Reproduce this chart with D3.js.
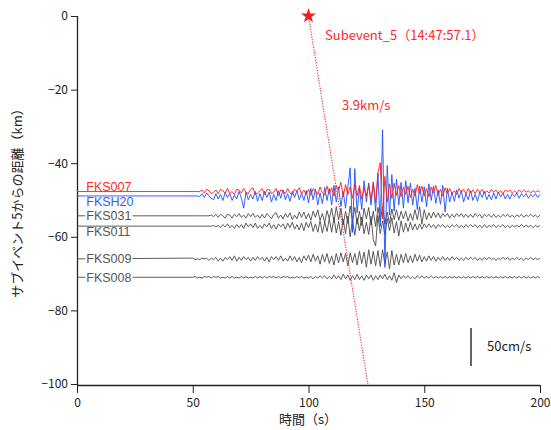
<!DOCTYPE html>
<html>
<head>
<meta charset="utf-8">
<script src="https://cdn.jsdelivr.net/npm/d3@7"></script>
<style>
  body { margin: 0; background: #fff; }
  svg text { font-family: "Noto Sans CJK JP", "Noto Sans", sans-serif; }
  svg text.stn { font-family: "Liberation Sans", Arial, sans-serif; }
</style>
</head>
<body>
<div id="chart"></div>
<script>
// waveform samples (cm/s), one per second starting at t0
var t0 = 50;
var dt = 1;

var stations = ["FKS008", "FKS009", "FKS011", "FKS031", "FKSH20", "FKS007"];
// distance from subevent 5 (km), trace baselines
var distances = [-71.0, -66.0, -57.1, -54.3, -48.9, -47.7];

var fks007 = [0,0,0,0, 2,-2,3,1,-3,-1,2,
  -3,3,1,-2,4,-3,0,-4,3,2,
  -2,4,-1,-3,3,5,-4,-2,1,4,
  -4,2,3,-3,-1,4,-5,2,1,-3,
  4,-2,-4,3,0,5,-3,2,-4,3,
  -5,4,1,-4,6,-2,-5,7,-3,5,
  -6,8,2,12,-7,9,-4,6,-9,10,
  -6,8,-10,5,-6,9,-11,12,-15,25,
  38,-36,20,-14,10,-9,11,-5,8,-7,
  6,-4,7,-8,3,-6,9,-3,7,-6,
  4,-7,6,-2,8,-5,3,-6,5,-3,
  4,-3,1,-4,4,-1,3,-3,4,-2,
  2,-3,3,-1,3,-3,1,-2,3,-1,
  2,-2,1,-3,2,0,2,-2,1,-2,
  2,-1,2,-1,1,-2,1,-1,1,-1];

var fksh20 = [0,0,0,-1, 3,-2,4,0,-3,-5,3,
  -4,2,-6,4,-2,3,-6,1,-4,6,
  -3,-16,5,-5,2,-4,6,-7,3,-6,
  6,-2,5,-8,2,-6,7,-3,8,-5,
  3,-7,6,-2,7,-5,4,-6,7,-9,
  10,-5,9,-12,4,-10,11,-6,10,-12,
  14,-8,12,-14,6,-16,12,37,-48,36,
  -22,10,-18,20,-8,17,-12,18,-20,30,
  -40,87,-94,40,-25,28,-20,22,-12,18,
  -16,20,-9,17,-12,10,-18,13,-8,12,
  -14,16,-6,13,-10,8,-11,14,-21,10,
  -8,5,-7,8,-3,7,-8,3,-5,7,
  -6,2,-7,5,-2,6,-5,2,-5,4,
  -4,5,-1,4,-4,2,-4,3,-1,4,
  -3,3,-1,3,-3,2,-1,3,-2,2];

var fks031 = [0,0,0,0, 0,0,0,0,1,-1,2,
  -2,2,0,-3,2,1,-3,2,-1,3,
  -2,1,-3,3,-1,3,-2,1,-3,2,
  -3,3,0,-4,2,4,-3,1,-4,3,
  -2,4,-5,1,-4,5,-2,5,-4,3,
  -6,6,-2,8,-6,3,-9,7,-4,10,
  -8,12,-5,10,-12,6,-10,13,-7,11,
  -11,6,-13,10,-4,11,-12,6,-14,11,
  -7,12,-11,5,-10,9,-5,8,-6,6,
  -4,6,-7,3,-6,8,-5,12,-11,8,
  -5,4,-3,5,-2,4,-3,3,-1,3,
  -3,2,-2,3,-1,3,-2,2,-2,2,
  -2,3,-1,2,-3,2,-1,2,-2,2,
  -2,1,-2,2,-1,2,-2,1,-2,1,
  -1,2,-2,1,-1,2,-1,1,-2,1];

var fks011 = [0,0,0,0, 0,0,0,0,0,1,-1,
  1,-2,2,-1,3,-2,1,-3,2,-2,
  2,-3,4,-1,3,-2,4,-3,1,-3,
  3,-1,4,-3,2,-4,3,-1,3,-4,
  4,-2,5,-4,2,-5,4,-6,5,-2,
  6,-7,3,-8,7,-9,5,-7,10,-8,
  11,-9,6,-12,9,-10,13,-14,8,-12,
  11,-6,12,-10,5,-11,13,-18,-26,14,
  -10,7,-12,10,-6,11,-9,6,-13,7,
  -8,4,-7,5,-5,3,-5,3,-4,3,
  -2,3,-2,2,-3,2,-1,2,-2,1,
  -2,2,-1,2,-2,1,-2,2,-1,2,
  -1,2,-2,1,-2,2,-2,1,-1,2,
  -2,1,-1,2,-2,1,-2,1,-1,1,
  -1,2,-1,1,-1,1,-2,1,-1,1];

var fks009 = [1,-1,0,-1, 1,0,1,-2,1,-1,2,
  -3,1,-3,2,-1,3,-2,4,-3,2,
  -2,3,-1,2,-3,2,-2,3,-1,2,
  -3,2,-4,3,-1,3,-2,4,-3,1,
  -3,4,-2,3,-4,2,-5,4,-2,5,
  -4,6,-3,4,-7,6,-4,7,-6,4,
  -8,7,-5,8,-4,7,-9,8,-5,7,
  -8,10,-6,9,-11,12,-7,10,-9,11,
  -10,12,-7,9,-13,11,-8,6,-8,6,
  -5,7,-5,4,-5,6,-3,5,-4,3,
  -3,4,-2,3,-3,2,-2,3,-2,2,
  -2,3,-1,2,-2,1,-2,2,-1,2,
  -1,2,-2,1,-2,2,-1,2,-1,1,
  -2,1,-1,2,-1,2,-2,1,-1,2,
  -1,1,-2,1,-1,2,-1,1,-1,1];

var fks008 = [0,1,-1,0, -1,1,0,1,-1,1,0,
  1,-1,0,-1,1,-1,1,-1,0,-1,
  1,-1,1,-1,0,-1,1,-1,1,-1,
  1,-1,1,0,1,-1,1,-1,1,0,
  1,-1,0,-1,1,-1,1,-1,0,-1,
  1,-2,1,-1,2,-1,2,-2,1,-2,
  3,-2,2,-3,4,-2,3,-4,2,-3,
  4,-3,2,-4,3,-2,3,-4,2,-3,
  3,-2,4,-3,2,-4,6,-7,3,-2,
  2,-1,2,-2,1,-2,2,-1,2,-1,
  1,-1,2,-1,1,-1,1,-1,1,-1,
  1,-1,1,-1,1,-1,1,-1,1,-1,
  1,-1,1,-1,1,-1,1,-1,1,-1,
  1,-1,1,-1,1,-1,1,-1,1,-1,
  1,-1,1,-1,1,-1,1,-1,1,-1];

var waves = [fks008, fks009, fks011, fks031, fksh20, fks007];
var traceColors = ["#4a4a4a", "#4a4a4a", "#4a4a4a", "#4a4a4a", "#1f4fff", "#ff1a1a"];
var labelColors = ["#555", "#555", "#555", "#555", "#2a5cff", "#ff2a2a"];
// label placement against its trace: 0 centred, 1 below, -1 above
var labelSide = [0, 0, 1, 0, 1, -1];

var xTicks = [0, 50, 100, 150, 200];
var yTicks = [0, -20, -40, -60, -80, -100];

// subevent origin and apparent velocity
var originTime = 100;
var velocity = 3.9; // km/s
var scaleBarCm = 50;

var W = 551, H = 430;
var x = d3.scaleLinear().domain([0, 200]).range([77, 540]);
var y = d3.scaleLinear().domain([-100, 0]).range([384, 16]);
// 50 cm/s ~ 10.3 km on the distance axis
var kmPerCm = 10.33 / scaleBarCm;

var svg = d3.select("#chart").append("svg")
    .attr("width", W).attr("height", H);

// axes
var yAxis = svg.append("g").attr("transform", "translate(77,0)")
    .call(d3.axisLeft(y).tickValues(yTicks).tickSize(6).tickPadding(3).tickFormat(d => d === 0 ? "0" : "\u2212" + Math.abs(d)));
var xAxis = svg.append("g").attr("transform", "translate(0,385)")
    .call(d3.axisBottom(x).tickValues(xTicks).tickSize(8).tickPadding(5));
[xAxis, yAxis].forEach(function(g) {
    g.select(".domain").attr("stroke", "#222").attr("stroke-width", 1.3);
    g.selectAll(".tick line").attr("stroke", "#222");
    g.selectAll(".tick text").attr("fill", "#222").style("font-size", "12px");
});
xAxis.select(".domain").attr("d", "M77,0.5H540");
yAxis.select(".domain").attr("d", "M0.5,16V385");

svg.append("text").attr("x", 308).attr("y", 424).attr("text-anchor", "middle")
    .style("font-size", "13px").attr("fill", "#222").text("時間（s）");
svg.append("text").attr("transform", "translate(22,200) rotate(-90)")
    .attr("text-anchor", "middle").style("font-size", "13px").attr("fill", "#222")
    .text("サブイベント5からの距離（km）");

// traces
var line = d3.line().x(d => x(d[0])).y(d => y(d[1]));
waves.forEach(function(w, i) {
    var base = distances[i];
    var pts = [[0, base]];
    w.forEach(function(v, j) { pts.push([t0 + j * dt, base + v * kmPerCm]); });
    svg.append("path").attr("d", line(pts)).attr("fill", "none")
        .attr("stroke", traceColors[i]).attr("stroke-width", 0.9)
        .attr("stroke-linejoin", "round");
});

// station labels, white box hides the flat part of the trace behind them
stations.forEach(function(s, i) {
    var base = y(distances[i]);
    var ty = labelSide[i] === 0 ? base + 4.3 : (labelSide[i] > 0 ? base + 10.2 : base - 1);
    var t = svg.append("text").attr("class", "stn").attr("x", x(4)).attr("y", ty)
        .style("font-size", "12.5px").attr("fill", labelColors[i]).text(s);
    var bb = t.node().getBBox();
    var top = base - 5, bot = base + 5;
    if (labelSide[i] > 0) { top = base + 1; bot = base + 11; }
    if (labelSide[i] < 0) { top = base - 11; bot = base - 1; }
    svg.append("rect").attr("x", bb.x - 1).attr("y", top)
        .attr("width", bb.width + 2).attr("height", bot - top)
        .attr("fill", "#fff");
    t.raise();
});

// apparent velocity line
var tEnd = originTime + 100 / velocity;
svg.append("line")
    .attr("x1", x(originTime)).attr("y1", y(0))
    .attr("x2", x(tEnd)).attr("y2", y(-100))
    .attr("stroke", "#ff2a2a").attr("stroke-width", 1.1)
    .attr("stroke-dasharray", "1.2,1.4");

svg.append("path")
    .attr("d", d3.symbol().type(d3.symbolStar).size(70)())
    .attr("transform", "translate(" + x(originTime) + "," + y(0) + ")")
    .attr("fill", "#ff1a1a");

svg.append("text").attr("x", 325).attr("y", 40).style("font-size", "13px")
    .attr("fill", "#ff2a2a").text("Subevent_5（14:47:57.1）");
svg.append("text").attr("x", 342).attr("y", 110).style("font-size", "13px")
    .attr("fill", "#ff2a2a").text(velocity + "km/s");

// amplitude scale bar
var barT = 170.2, barTop = -84.8;
svg.append("line")
    .attr("x1", x(barT)).attr("x2", x(barT))
    .attr("y1", y(barTop)).attr("y2", y(barTop - scaleBarCm * kmPerCm))
    .attr("stroke", "#333").attr("stroke-width", 1.5);
svg.append("text").attr("x", 487).attr("y", 351).style("font-size", "13px")
    .attr("fill", "#222").text(scaleBarCm + "cm/s");
</script>
</body>
</html>
